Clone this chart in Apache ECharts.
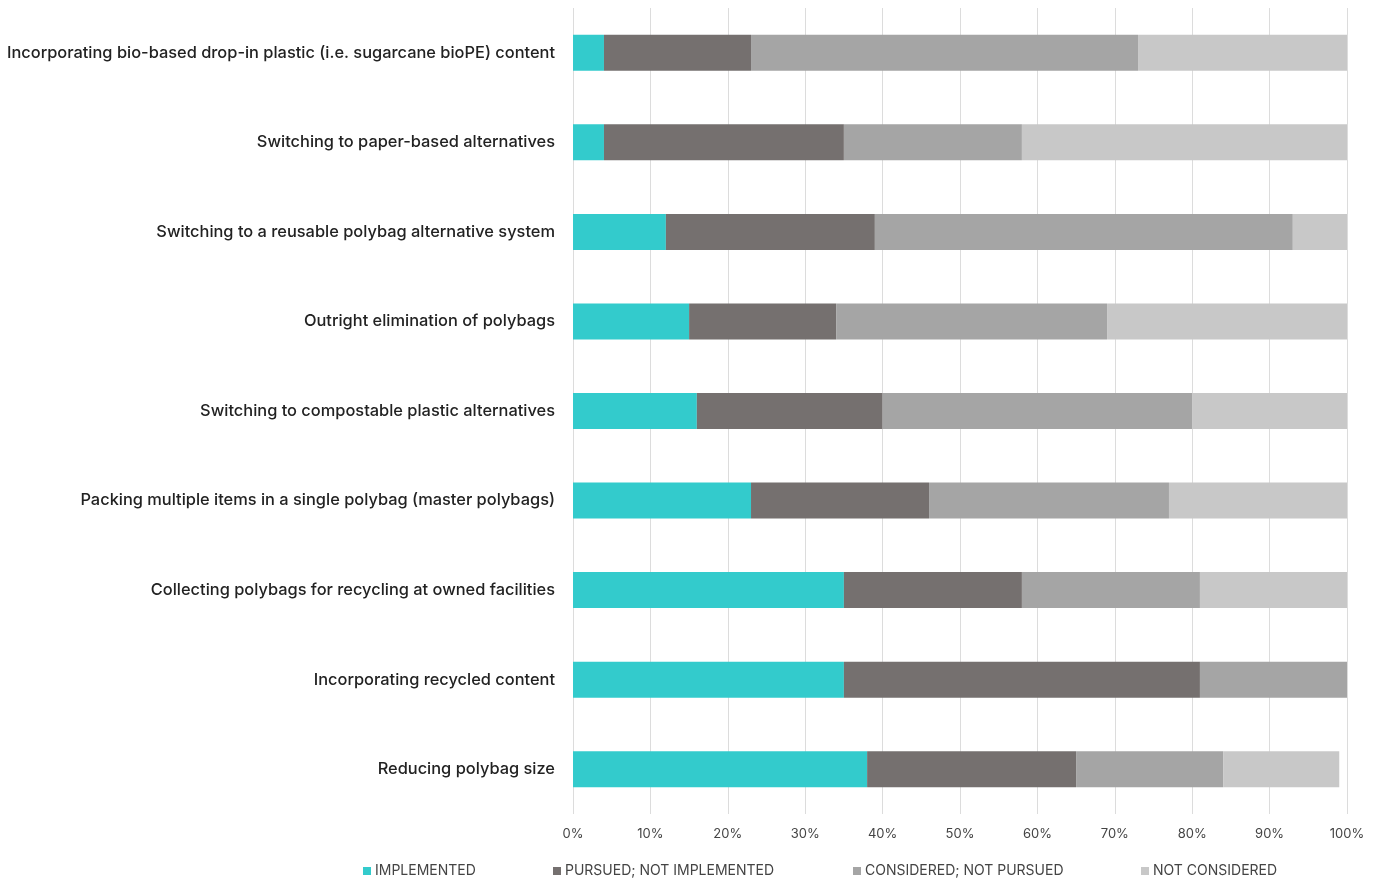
<!DOCTYPE html>
<html>
<head>
<meta charset="utf-8">
<script src="https://cdn.jsdelivr.net/npm/echarts@6/dist/echarts.min.js"></script>
<style>html,body{margin:0;padding:0;background:#fff;}#c{width:1381px;height:878px;}</style>
</head>
<body>
<div id="c"></div>
<script>
const categories = [
  "Incorporating bio-based drop-in plastic (i.e. sugarcane bioPE) content",
  "Switching to paper-based alternatives",
  "Switching to a reusable polybag alternative system",
  "Outright elimination of polybags",
  "Switching to compostable plastic alternatives",
  "Packing multiple items in a single polybag (master polybags)",
  "Collecting polybags for recycling at owned facilities",
  "Incorporating recycled content",
  "Reducing polybag size"
];
const seriesNames = ["IMPLEMENTED", "PURSUED; NOT IMPLEMENTED", "CONSIDERED; NOT PURSUED", "NOT CONSIDERED"];
const implemented = [4, 4, 12, 15, 16, 23, 35, 35, 38];
const pursued = [19, 31, 27, 19, 24, 23, 23, 46, 27];
const considered = [50, 23, 54, 35, 40, 31, 23, 19, 19];
const notConsidered = [27, 42, 7, 31, 20, 23, 19, 0, 15];
const tickValues = [0, 10, 20, 30, 40, 50, 60, 70, 80, 90, 100];

const colors = ["#33CBCC", "#75706F", "#A5A5A5", "#C8C8C8"];
const values = [implemented, pursued, considered, notConsidered];
const legendLefts = [358, 548, 848, 1136];

const chart = echarts.init(document.getElementById('c'));
chart.setOption({
  animation: false,
  color: colors,
  grid: { left: 573, right: 34, top: 8, bottom: 64 },
  legend: seriesNames.map((n, i) => ({
    data: [n], left: legendLefts[i], top: 859, icon: 'rect', itemWidth: 8, itemHeight: 8, itemGap: 0,
    textStyle: { fontFamily: 'Inter', fontSize: 14, color: '#444', padding: [0, 0, 0, -1] },
    selectedMode: false
  })),
  xAxis: {
    type: 'value', min: 0, max: 100, interval: 10,
    axisLabel: { formatter: v => tickValues.includes(v) ? v + '%' : '', fontFamily: 'Inter', fontSize: 13, color: '#444', margin: 14 },
    splitLine: { show: true, lineStyle: { color: '#DCDCDC', width: 1 } },
    axisLine: { show: false }, axisTick: { show: false }
  },
  yAxis: {
    type: 'category', data: categories, inverse: true,
    axisLabel: { fontFamily: 'Inter', fontSize: 16.4, fontWeight: 500, color: '#222', margin: 18 },
    axisLine: { show: false }, axisTick: { show: false }
  },
  series: seriesNames.map((n, i) => ({
    name: n, type: 'bar', stack: 'total', data: values[i], barWidth: 36,
    itemStyle: { color: colors[i] }
  }))
});
</script>
</body>
</html>
